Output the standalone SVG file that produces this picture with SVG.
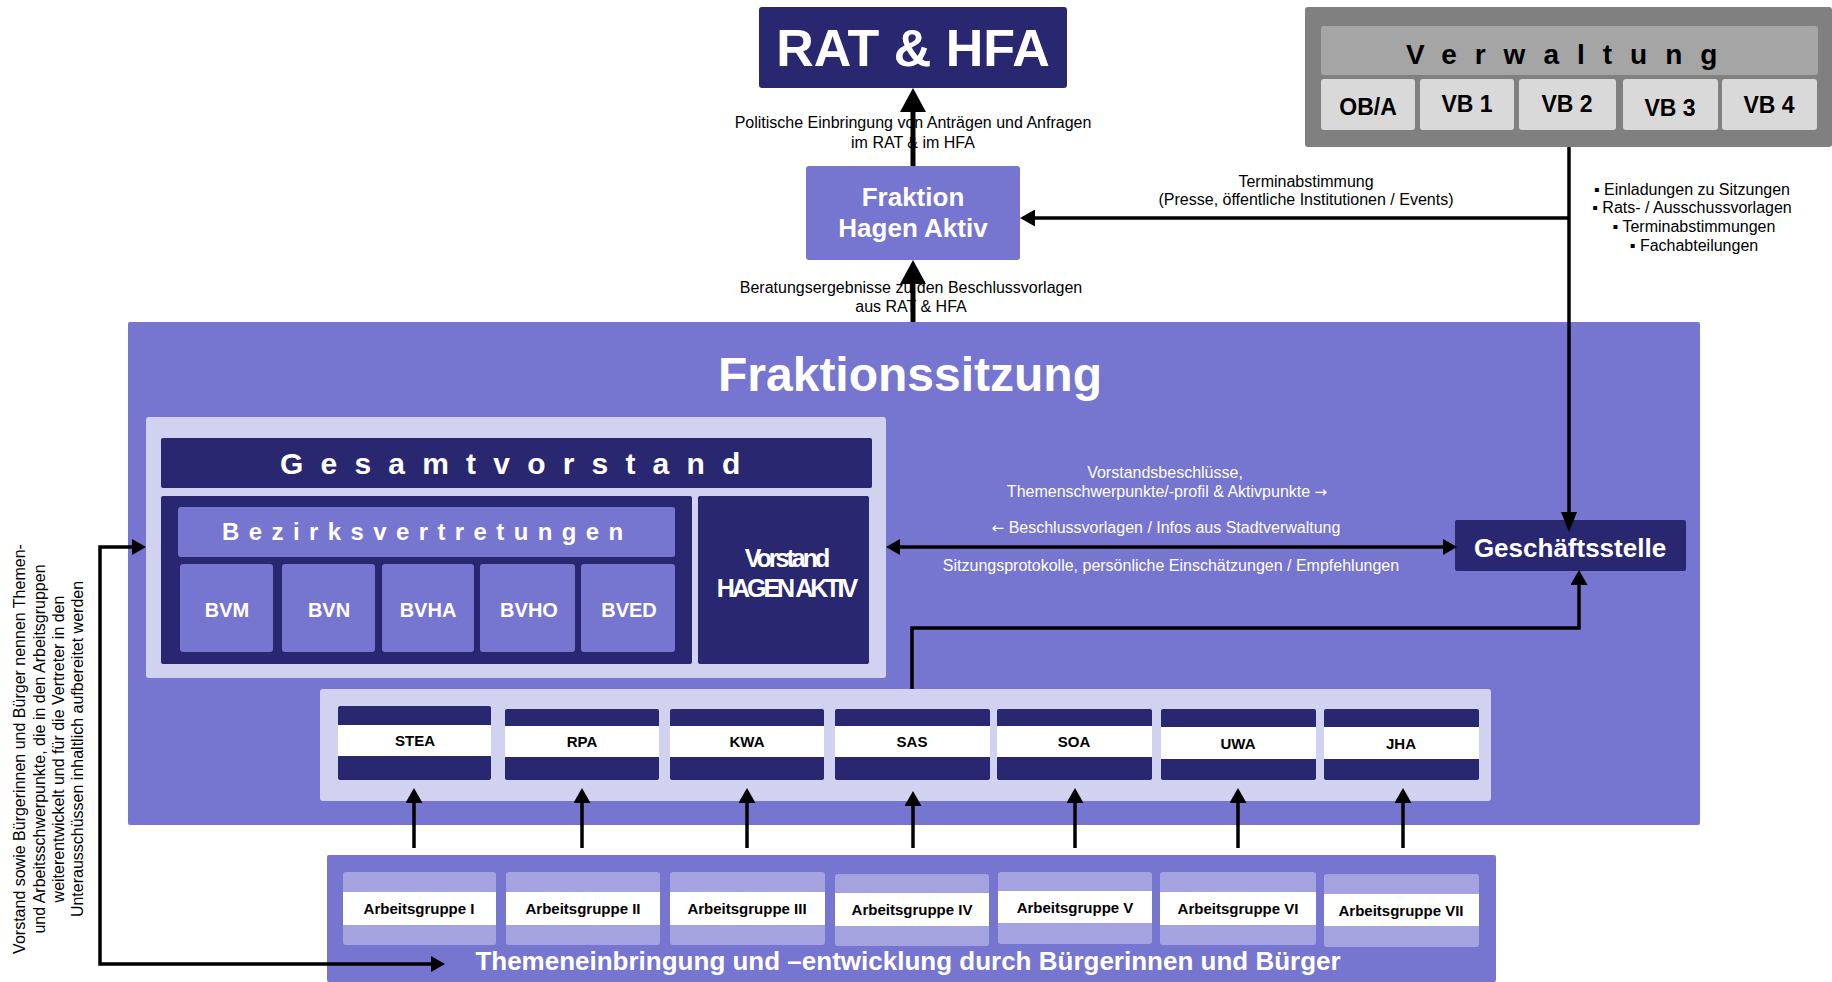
<svg xmlns="http://www.w3.org/2000/svg" width="1832" height="982" viewBox="0 0 1832 982">
<style>
.navy{fill:#28276f}
.mid{fill:#7675d0}
.light{fill:#d1d1f0}
.ag{fill:#a4a3e0}
.white{fill:#ffffff}
.t{font-family:"Liberation Sans",Arial,sans-serif}
.b{font-weight:bold}
.w{fill:#ffffff}
.k{fill:#000000}
.c{text-anchor:middle}
.lbl{font-size:16px}
.arr{font-family:"DejaVu Sans",sans-serif;font-size:15px}
.com{font-size:15px;font-weight:bold;fill:#000;text-anchor:middle}
.ln{fill:none;stroke:#000;stroke-width:3.5}
.lnb{fill:none;stroke:#000;stroke-width:5}
</style>
<defs>
<marker id="hL" markerUnits="userSpaceOnUse" markerWidth="24" markerHeight="26" refX="0" refY="13" orient="auto"><path d="M0,0 L24,13 L0,26 z" fill="#000"/></marker>
<marker id="hS" markerUnits="userSpaceOnUse" markerWidth="15" markerHeight="17" refX="0" refY="8.5" orient="auto"><path d="M0,0 L15,8.5 L0,17 z" fill="#000"/></marker>
<marker id="hD" markerUnits="userSpaceOnUse" markerWidth="14" markerHeight="16" refX="0" refY="8" orient="auto-start-reverse"><path d="M0,0 L14,8 L0,16 z" fill="#000"/></marker>
<marker id="hG" markerUnits="userSpaceOnUse" markerWidth="20" markerHeight="16" refX="0" refY="8" orient="auto"><path d="M0,0 L20,8 L0,16 z" fill="#000"/></marker>
</defs>

<g id="rat-hfa">
<rect class="navy" x="759" y="7" width="308" height="81" rx="3"/>
<text class="t b w c" x="913" y="66" font-size="52">RAT &amp; HFA</text>
</g>

<g id="fraktion">
<rect class="mid" x="806" y="166" width="214" height="94" rx="3"/>
<text class="t b w c" x="913" y="206" font-size="26">Fraktion</text>
<text class="t b w c" x="913" y="237" font-size="26">Hagen Aktiv</text>
</g>

<g id="verwaltung">
<rect x="1305" y="7" width="527" height="140" rx="3" fill="#808080"/>
<rect x="1321" y="26" width="497" height="49" rx="3" fill="#a5a5a5"/>
<text class="t b k" x="1406" y="64" font-size="28" letter-spacing="18">Verwaltung</text>
<rect x="1321" y="79" width="94" height="51" rx="3" fill="#d9d9d9"/>
<rect x="1420" y="79" width="94" height="51" rx="3" fill="#d9d9d9"/>
<rect x="1519" y="79" width="97" height="51" rx="3" fill="#d9d9d9"/>
<rect x="1623" y="79" width="95" height="51" rx="3" fill="#d9d9d9"/>
<rect x="1722" y="79" width="95" height="51" rx="3" fill="#d9d9d9"/>
<text class="t b k c" x="1368" y="115" font-size="23">OB/A</text>
<text class="t b k c" x="1467" y="112" font-size="23">VB 1</text>
<text class="t b k c" x="1567" y="112" font-size="23">VB 2</text>
<text class="t b k c" x="1670" y="116" font-size="23">VB 3</text>
<text class="t b k c" x="1769" y="113" font-size="23">VB 4</text>
</g>

<g id="fraktionssitzung">
<rect class="mid" x="128" y="322" width="1572" height="503" rx="2"/>
<text class="t b w c" x="910" y="391" font-size="48">Fraktionssitzung</text>
</g>

<g id="gesamtvorstand">
<rect class="light" x="146" y="417" width="740" height="261" rx="3"/>
<rect class="navy" x="161" y="438" width="711" height="50" rx="2"/>
<text class="t b w" x="280" y="474" font-size="30" letter-spacing="17.2">Gesamtvorstand</text>
<rect class="navy" x="161" y="496" width="531" height="168" rx="2"/>
<rect class="mid" x="178" y="507" width="497" height="50" rx="3"/>
<text class="t b w" x="222" y="540" font-size="24" letter-spacing="9.4">Bezirksvertretungen</text>
<rect class="mid" x="180" y="564" width="93" height="88" rx="3"/>
<rect class="mid" x="282" y="564" width="93" height="88" rx="3"/>
<rect class="mid" x="382" y="564" width="92" height="88" rx="3"/>
<rect class="mid" x="480" y="564" width="95" height="88" rx="3"/>
<rect class="mid" x="581" y="564" width="94" height="88" rx="3"/>
<text class="t b w c" x="227" y="617" font-size="20">BVM</text>
<text class="t b w c" x="329" y="617" font-size="20">BVN</text>
<text class="t b w c" x="428" y="617" font-size="20">BVHA</text>
<text class="t b w c" x="529" y="617" font-size="20">BVHO</text>
<text class="t b w c" x="629" y="617" font-size="20">BVED</text>
<rect class="navy" x="698" y="496" width="171" height="168" rx="2"/>
<text class="t b w c" x="786" y="567" font-size="25" letter-spacing="-3">Vorstand</text>
<text class="t b w c" x="786" y="597" font-size="25" letter-spacing="-3">HAGEN AKTIV</text>
</g>

<g id="geschaeftsstelle">
<rect class="navy" x="1455" y="520" width="231" height="51" rx="2"/>
<text class="t b w c" x="1570" y="557" font-size="26">Geschäftsstelle</text>
</g>

<g id="ausschuesse">
<rect class="light" x="320" y="689" width="1171" height="112" rx="3"/>
<rect class="navy" x="338" y="706" width="153" height="74" rx="2"/>
<rect class="white" x="338" y="725" width="153" height="31"/>
<rect class="navy" x="505" y="709" width="154" height="71" rx="2"/>
<rect class="white" x="505" y="726" width="154" height="31"/>
<rect class="navy" x="670" y="709" width="154" height="71" rx="2"/>
<rect class="white" x="670" y="726" width="154" height="31"/>
<rect class="navy" x="835" y="709" width="155" height="71" rx="2"/>
<rect class="white" x="835" y="726" width="155" height="31"/>
<rect class="navy" x="997" y="709" width="155" height="71" rx="2"/>
<rect class="white" x="997" y="726" width="155" height="31"/>
<rect class="navy" x="1161" y="709" width="155" height="71" rx="2"/>
<rect class="white" x="1161" y="727" width="155" height="32"/>
<rect class="navy" x="1324" y="709" width="155" height="71" rx="2"/>
<rect class="white" x="1324" y="727" width="155" height="32"/>
<text class="t com" x="415" y="746">STEA</text>
<text class="t com" x="582" y="747">RPA</text>
<text class="t com" x="747" y="747">KWA</text>
<text class="t com" x="912" y="747">SAS</text>
<text class="t com" x="1074" y="747">SOA</text>
<text class="t com" x="1238" y="749">UWA</text>
<text class="t com" x="1401" y="749">JHA</text>
</g>

<g id="arbeitsgruppen">
<rect class="mid" x="327" y="855" width="1169" height="127" rx="2"/>
<rect class="ag" x="343" y="872" width="153" height="73" rx="3"/>
<rect class="white" x="343" y="892" width="153" height="33"/>
<rect class="ag" x="506" y="872" width="154" height="73" rx="3"/>
<rect class="white" x="506" y="892" width="154" height="33"/>
<rect class="ag" x="670" y="872" width="155" height="73" rx="3"/>
<rect class="white" x="670" y="892" width="155" height="33"/>
<rect class="ag" x="835" y="874" width="154" height="72" rx="3"/>
<rect class="white" x="835" y="893" width="154" height="33"/>
<rect class="ag" x="998" y="872" width="154" height="72" rx="3"/>
<rect class="white" x="998" y="891" width="154" height="32"/>
<rect class="ag" x="1160" y="872" width="156" height="73" rx="3"/>
<rect class="white" x="1160" y="892" width="156" height="33"/>
<rect class="ag" x="1324" y="874" width="155" height="73" rx="3"/>
<rect class="white" x="1324" y="894" width="155" height="32"/>
<text class="t com" x="419" y="914">Arbeitsgruppe I</text>
<text class="t com" x="583" y="914">Arbeitsgruppe II</text>
<text class="t com" x="747" y="914">Arbeitsgruppe III</text>
<text class="t com" x="912" y="915">Arbeitsgruppe IV</text>
<text class="t com" x="1075" y="913">Arbeitsgruppe V</text>
<text class="t com" x="1238" y="914">Arbeitsgruppe VI</text>
<text class="t com" x="1401" y="916">Arbeitsgruppe VII</text>
<text class="t b w c" x="908" y="970" font-size="26">Themeneinbringung und –entwicklung durch Bürgerinnen und Bürger</text>
</g>

<g id="labels">
<text class="t lbl k c" x="913" y="128">Politische Einbringung von Anträgen und Anfragen</text>
<text class="t lbl k c" x="913" y="148">im RAT &amp; im HFA</text>
<text class="t lbl k c" x="911" y="293">Beratungsergebnisse zu den Beschlussvorlagen</text>
<text class="t lbl k c" x="911" y="312">aus RAT &amp; HFA</text>
<text class="t lbl k c" x="1306" y="187">Terminabstimmung</text>
<text class="t lbl k c" x="1306" y="205">(Presse, öffentliche Institutionen / Events)</text>
<text class="t lbl k c" x="1692" y="195">▪ Einladungen zu Sitzungen</text>
<text class="t lbl k c" x="1692" y="213">▪ Rats- / Ausschussvorlagen</text>
<text class="t lbl k c" x="1694" y="232">▪ Terminabstimmungen</text>
<text class="t lbl k c" x="1694" y="251">▪ Fachabteilungen</text>
<text class="t lbl w c" x="1165" y="478">Vorstandsbeschlüsse,</text>
<text class="t lbl w c" x="1167" y="497">Themenschwerpunkte/-profil &amp; Aktivpunkte <tspan class="arr">→</tspan></text>
<text class="t lbl w c" x="1166" y="533"><tspan class="arr">←</tspan> Beschlussvorlagen / Infos aus Stadtverwaltung</text>
<text class="t lbl w c" x="1171" y="571">Sitzungsprotokolle, persönliche Einschätzungen / Empfehlungen</text>
<g transform="translate(0,749)">
<text class="t lbl k c" transform="translate(25,0) rotate(-90)">Vorstand sowie Bürgerinnen und Bürger nennen Themen-</text>
<text class="t lbl k c" transform="translate(45,0) rotate(-90)">und Arbeitsschwerpunkte, die in den Arbeitsgruppen</text>
<text class="t lbl k c" transform="translate(64,0) rotate(-90)">weiterentwickelt und für die Vertreter in den</text>
<text class="t lbl k c" transform="translate(83,0) rotate(-90)">Unterausschüssen inhaltlich aufbereitet werden</text>
</g>
</g>

<g id="connectors">
<path class="lnb" d="M913,166 V112" marker-end="url(#hL)"/>
<path class="lnb" d="M913,322 V284" marker-end="url(#hL)"/>
<path class="ln" d="M1569,218 H1035" marker-end="url(#hS)"/>
<path class="ln" d="M1569,147 V512" marker-end="url(#hG)"/>
<path class="ln" d="M900,547 H1443" marker-start="url(#hD)" marker-end="url(#hD)"/>
<path class="ln" d="M912,689 V628 H1579 V585" marker-end="url(#hS)"/>
<path class="ln" d="M431,964 H100 V547 H132" marker-start="url(#hD)" marker-end="url(#hD)"/>
<path class="ln" d="M414,848 V803" marker-end="url(#hS)"/>
<path class="ln" d="M582,848 V803" marker-end="url(#hS)"/>
<path class="ln" d="M747,848 V803" marker-end="url(#hS)"/>
<path class="ln" d="M913,848 V806" marker-end="url(#hS)"/>
<path class="ln" d="M1075,848 V803" marker-end="url(#hS)"/>
<path class="ln" d="M1238,848 V803" marker-end="url(#hS)"/>
<path class="ln" d="M1403,848 V803" marker-end="url(#hS)"/>
</g>
</svg>
